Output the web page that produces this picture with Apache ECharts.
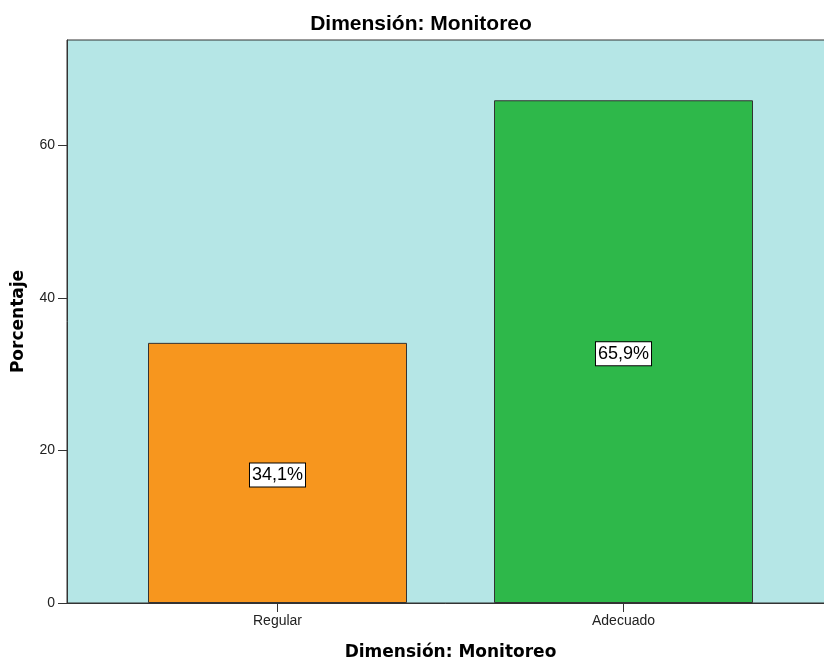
<!DOCTYPE html>
<html>
<head>
<meta charset="utf-8">
<script src="https://cdn.jsdelivr.net/npm/echarts@6/dist/echarts.min.js"></script>
<style>
  html, body { margin: 0; padding: 0; background: #fff; }
  #chart { width: 824px; height: 660px; }
</style>
</head>
<body>
<div id="chart"></div>
<script>
// datos del gráfico
const categorias = ['Regular', 'Adecuado'];
const porcentajes = [34.1, 65.9];
const colores = ['#f7961e', '#2eb84a'];
const marcasY = [0, 20, 40, 60];

const titulo = 'Dimensión: Monitoreo';

// formato con coma decimal
function conComa(v) {
    return v.toFixed(1).replace('.', ',') + '%';
}

const chart = echarts.init(document.getElementById('chart'));

chart.setOption({
    animation: false,
    title: {
        text: titulo,
        left: 416,
        textAlign: 'center',
        top: 9,
        textStyle: {
            fontFamily: 'Liberation Sans',
            fontSize: 21,
            fontWeight: 'bold',
            color: '#000'
        }
    },
    grid: [
        // fondo del área de trazado
        {
            left: 67, top: 40, right: -20, bottom: 57,
            outerBoundsMode: 'none',
            show: true,
            backgroundColor: '#b5e6e6',
            borderColor: '#333',
            borderWidth: 1
        },
        // zona de las barras
        {
            left: 104.5, top: 40, width: 692, bottom: 57,
            outerBoundsMode: 'none'
        }
    ],
    xAxis: [
        {
            gridIndex: 0,
            type: 'value',
            axisLine: { show: true, onZero: false, lineStyle: { color: '#333' } },
            axisTick: { show: false },
            axisLabel: { show: false },
            splitLine: { show: false }
        },
        {
            gridIndex: 1,
            type: 'category',
            data: categorias,
            axisLine: { show: false },
            axisTick: {
                show: true,
                alignWithLabel: true,
                length: 9,
                lineStyle: { color: '#333' }
            },
            axisLabel: {
                margin: 11,
                fontFamily: 'Liberation Sans',
                fontSize: 14,
                color: '#222'
            },
            name: titulo,
            nameLocation: 'middle',
            nameGap: 41,
            nameTextStyle: {
                fontFamily: 'DejaVu Sans',
                fontSize: 17,
                fontWeight: 'bold',
                color: '#000'
            }
        }
    ],
    yAxis: [
        {
            gridIndex: 0,
            type: 'value',
            min: 0,
            max: 73.8,
            interval: 20,
            axisLine: { show: true, lineStyle: { color: '#333' } },
            axisTick: {
                show: true,
                length: 9,
                customValues: marcasY,
                lineStyle: { color: '#333' }
            },
            axisLabel: {
                margin: 12,
                customValues: marcasY,
                fontFamily: 'Liberation Sans',
                fontSize: 14,
                color: '#222'
            },
            splitLine: { show: false },
            name: 'Porcentaje',
            nameLocation: 'middle',
            nameGap: 40,
            nameTextStyle: {
                fontFamily: 'DejaVu Sans',
                fontSize: 17,
                fontWeight: 'bold',
                color: '#000'
            }
        },
        {
            gridIndex: 1,
            type: 'value',
            min: 0,
            max: 73.8,
            show: false
        }
    ],
    series: [
        {
            type: 'bar',
            xAxisIndex: 1,
            yAxisIndex: 1,
            barWidth: 259,
            data: porcentajes.map((v, i) => ({
                value: v,
                itemStyle: { color: colores[i] }
            })),
            itemStyle: {
                borderColor: '#333',
                borderWidth: 1
            },
            label: {
                show: true,
                position: 'inside',
                offset: [0, 2],
                formatter: (p) => conComa(p.value),
                fontFamily: 'Liberation Sans',
                fontSize: 18,
                color: '#000',
                backgroundColor: '#fff',
                borderColor: '#000',
                borderWidth: 1,
                padding: [3, 2, 2, 2]
            }
        }
    ]
});
</script>
</body>
</html>
